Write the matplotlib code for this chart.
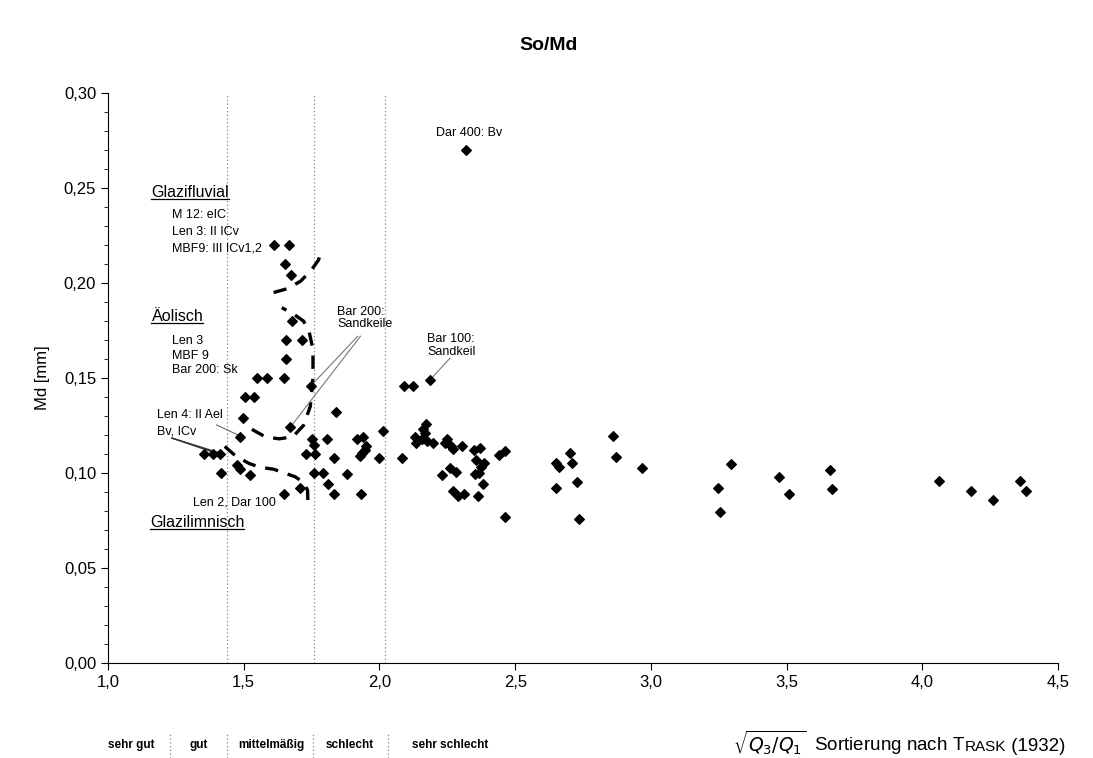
import matplotlib
matplotlib.use('Agg')
import matplotlib.pyplot as plt
from matplotlib.ticker import MultipleLocator, FuncFormatter
from matplotlib.lines import Line2D

plt.rcParams['font.family'] = ['Liberation Sans', 'DejaVu Sans']

# Sortierung (So) und Median (Md) der Proben
so_vals = [1.61, 1.665, 1.652, 1.674,
           1.678, 1.656, 1.715, 1.656, 1.549, 1.586, 1.648, 1.748, 1.505, 1.538,
           1.497, 1.486, 1.671,
           1.840, 1.752, 1.757, 1.807, 1.917, 1.940, 1.951, 1.947, 1.936, 1.929,
           1.354, 1.387, 1.413, 1.730, 1.763, 1.833,
           1.416, 1.475, 1.486, 1.523,
           1.759, 1.792, 1.880, 1.811, 1.707, 1.648, 1.833, 1.932,
           1.999, 2.013, 2.083,
           2.09, 2.124, 2.186,
           2.172, 2.16, 2.13, 2.135, 2.157, 2.175, 2.197, 2.168,
           2.249, 2.242, 2.263, 2.271, 2.304,
           2.349, 2.371, 2.356, 2.385, 2.375, 2.352, 2.368, 2.382,
           2.441, 2.463,
           2.23, 2.26, 2.282,
           2.271, 2.29, 2.312, 2.363,
           2.463,
           2.651, 2.662, 2.702, 2.709, 2.728, 2.651, 2.735,
           2.861, 2.872, 2.968,
           3.296, 3.248, 3.255,
           3.47, 3.51, 3.66, 3.665,
           4.06, 4.18, 4.26, 4.36, 4.38,
           2.32]
md_vals = [0.220, 0.220, 0.210, 0.204,
           0.180, 0.170, 0.170, 0.160, 0.150, 0.150, 0.150, 0.146, 0.140, 0.140,
           0.129, 0.119, 0.124,
           0.132, 0.118, 0.115, 0.118, 0.118, 0.119, 0.114, 0.112, 0.1105, 0.109,
           0.110, 0.110, 0.110, 0.110, 0.110, 0.108,
           0.100, 0.104, 0.102, 0.099,
           0.100, 0.100, 0.0995, 0.094, 0.092, 0.089, 0.089, 0.089,
           0.108, 0.122, 0.108,
           0.146, 0.146, 0.149,
           0.126, 0.123, 0.119, 0.116, 0.118, 0.117, 0.116, 0.121,
           0.118, 0.116, 0.114, 0.1125, 0.114,
           0.112, 0.113, 0.107, 0.1053, 0.103, 0.0995, 0.100, 0.094,
           0.1095, 0.1116,
           0.099, 0.1026, 0.1005,
           0.0905, 0.088, 0.089, 0.088,
           0.0768,
           0.1053, 0.103, 0.1105, 0.1053, 0.0953, 0.092, 0.0758,
           0.1195, 0.1084, 0.1026,
           0.1047, 0.092, 0.0795,
           0.0979, 0.089, 0.1016, 0.0916,
           0.0958, 0.0905, 0.0858, 0.0958, 0.0905,
           0.270]

# Grenzlinien der Ablagerungsgruppen (gestrichelt)
fluvial_x = [1.61, 1.66, 1.71, 1.75, 1.775, 1.787]
fluvial_y = [0.195, 0.197, 0.201, 0.207, 0.212, 0.217]
aeol_x = [1.53, 1.58, 1.63, 1.68, 1.72, 1.745, 1.755, 1.755, 1.74, 1.72, 1.68, 1.64]
aeol_y = [0.123, 0.119, 0.118, 0.119, 0.125, 0.135, 0.150, 0.165, 0.175, 0.180, 0.184, 0.187]
limn_x = [1.43, 1.47, 1.52, 1.56, 1.61, 1.65, 1.69, 1.72, 1.735, 1.737]
limn_y = [0.114, 0.109, 0.105, 0.103, 0.102, 0.100, 0.098, 0.095, 0.091, 0.082]

# Sortierungsklassen
class_bounds = [1.44, 1.76, 2.02]
class_names = ['sehr gut', 'gut', 'mittelmäßig', 'schlecht', 'sehr schlecht']

fig = plt.figure(figsize=(10.93, 7.58), dpi=100)
ax = fig.add_axes([0.0988, 0.1253, 0.8694, 0.752])

for b in class_bounds:
    ax.plot([b, b], [0, 0.30], color='#888888', lw=0.9, ls=(0, (1, 2)), zorder=1)

dash = (0, (4, 3))
ax.plot(fluvial_x, fluvial_y, color='black', lw=2.4, ls=dash, zorder=2)
ax.plot(aeol_x, aeol_y, color='black', lw=2.4, ls=dash, zorder=2)
ax.plot(limn_x, limn_y, color='black', lw=2.4, ls=dash, zorder=2)

ax.scatter(so_vals, md_vals, marker='D', s=24, color='black', zorder=3)

ax.set_xlim(1.0, 4.5)
ax.set_ylim(0.0, 0.30)
ax.xaxis.set_major_locator(MultipleLocator(0.5))
ax.yaxis.set_major_locator(MultipleLocator(0.05))
ax.yaxis.set_minor_locator(MultipleLocator(0.01))
ax.xaxis.set_major_formatter(FuncFormatter(lambda v, p: f'{v:.1f}'.replace('.', ',')))
ax.yaxis.set_major_formatter(FuncFormatter(lambda v, p: f'{v:.2f}'.replace('.', ',')))
ax.tick_params(axis='both', labelsize=12, direction='out', length=5, width=0.8)
ax.tick_params(axis='y', which='minor', length=3, width=0.6)
ax.spines['top'].set_visible(False)
ax.spines['right'].set_visible(False)
ax.set_ylabel('Md [mm]', fontsize=12, labelpad=10)

fig.text(0.5015, 0.94, 'So/Md', ha='center', va='center', fontsize=14, fontweight='bold')

# Beschriftungen im Diagramm
small = dict(fontsize=9, va='center', ha='left')
ax.text(2.209, 0.279, 'Dar 400: Bv', **small)
ax.text(1.236, 0.2358, 'M 12: eIC', **small)
ax.text(1.236, 0.2268, 'Len 3: II ICv', **small)
ax.text(1.236, 0.2184, 'MBF9: III ICv1,2', **small)
ax.text(1.236, 0.1695, 'Len 3', **small)
ax.text(1.236, 0.1616, 'MBF 9', **small)
ax.text(1.236, 0.1542, 'Bar 200: Sk', **small)
ax.text(1.180, 0.1305, 'Len 4: II Ael', **small)
ax.text(1.180, 0.1221, 'Bv, ICv', **small)
ax.text(1.313, 0.0847, 'Len 2, Dar 100', **small)
ax.text(1.844, 0.1816, 'Bar 200:\nSandkeile', linespacing=1.1, **small)
ax.text(2.175, 0.1670, 'Bar 100:\nSandkeil', linespacing=1.1, **small)

group_texts = []
for x, y, s in [(1.160, 0.2474, 'Glazifluvial'), (1.160, 0.1826, 'Äolisch'),
                (1.155, 0.0737, 'Glazilimnisch')]:
    group_texts.append(ax.text(x, y, s, fontsize=11.5, va='center', ha='left'))

# Verbindungslinien
ax.plot([1.40, 1.479], [0.1253, 0.120], color='#666666', lw=0.8, zorder=2)
ax.plot([1.235, 1.387], [0.1184, 0.111], color='#333333', lw=1.0, zorder=2)
ax.plot([1.235, 1.413], [0.1184, 0.1105], color='#333333', lw=1.0, zorder=2)
ax.plot([1.93, 1.671], [0.172, 0.124], color='#777777', lw=0.8, zorder=2)
ax.plot([1.92, 1.748], [0.172, 0.146], color='#777777', lw=0.8, zorder=2)
ax.plot([2.26, 2.186], [0.1605, 0.149], color='#777777', lw=0.8, zorder=2)

# Sortierungsklassen unter der Achse
cls_x = [131, 199, 271, 350, 450]
for cx, name in zip(cls_x, class_names):
    fig.text(cx / 1093, 1 - 745 / 758, name, ha='center', va='center',
             fontsize=8.5, fontweight='bold')
for sx in [170, 227, 313, 388]:
    fig.add_artist(Line2D([sx / 1093, sx / 1093], [0, 1 - 733 / 758],
                          color='#888888', lw=0.9, ls=(0, (1, 2))))

ybase = 1 - 751 / 758
t1 = fig.text(733 / 1093, ybase, r'$\sqrt{Q_3/Q_1}$  Sortierung nach T',
              ha='left', va='baseline', fontsize=13.5)
t2 = fig.text(0, ybase, 'RASK', fontsize=11, va='baseline', ha='left')
t3 = fig.text(0, ybase, ' (1932)', fontsize=13.5, va='baseline', ha='left')

fig.canvas.draw()
r = fig.canvas.get_renderer()
bb = t1.get_window_extent(r)
t2.set_x(bb.x1 / fig.bbox.width)
fig.canvas.draw()
bb2 = t2.get_window_extent(r)
t3.set_x(bb2.x1 / fig.bbox.width)

# Unterstreichungen
for t in group_texts:
    b = t.get_window_extent(r)
    yy = (b.y0 + 1) / fig.bbox.height
    fig.add_artist(Line2D([b.x0 / fig.bbox.width, b.x1 / fig.bbox.width], [yy, yy],
                          color='black', lw=0.9))

fig.savefig('out.png', dpi=100)
